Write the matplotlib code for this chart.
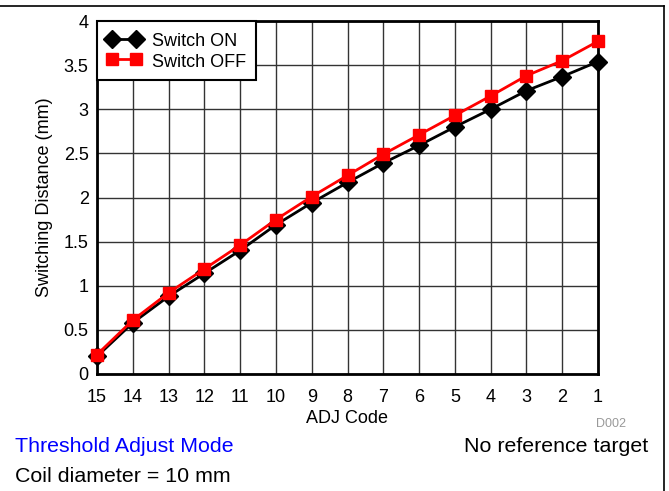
import matplotlib
matplotlib.use("Agg")
import matplotlib.pyplot as plt
from matplotlib.lines import Line2D

plt.rcParams['font.family'] = ['Liberation Sans', 'DejaVu Sans']

adj_codes = ['15', '14', '13', '12', '11', '10', '9', '8', '7', '6', '5', '4', '3', '2', '1']
switch_on = [0.20, 0.58, 0.88, 1.14, 1.40, 1.69, 1.94, 2.17, 2.39, 2.59, 2.80, 3.00, 3.21, 3.37, 3.54]
switch_off = [0.22, 0.61, 0.92, 1.19, 1.46, 1.75, 2.01, 2.25, 2.49, 2.71, 2.93, 3.15, 3.38, 3.55, 3.77]
y_ticks = [0, 0.5, 1, 1.5, 2, 2.5, 3, 3.5, 4]
y_tick_labels = ['0', '0.5', '1', '1.5', '2', '2.5', '3', '3.5', '4']

W, H = 669, 491
fig = plt.figure(figsize=(W / 100, H / 100), dpi=100)
ax = fig.add_axes([97 / W, 1 - 374 / H, (598 - 97) / W, (374 - 21) / H])

x = list(range(len(adj_codes)))
ax.plot(x, switch_on, color='black', lw=2, marker='D', markersize=9.5,
        label='Switch ON', clip_on=False, zorder=3)
ax.plot(x, switch_off, color='#ff0000', lw=2, marker='s', markersize=9,
        label='Switch OFF', clip_on=False, zorder=4)

ax.set_xlim(0, len(adj_codes) - 1)
ax.set_ylim(0, 4)
ax.set_xticks(x)
ax.set_xticklabels(adj_codes)
ax.set_yticks(y_ticks)
ax.set_yticklabels(y_tick_labels)
ax.tick_params(axis='y', length=0, labelsize=13, pad=6)
ax.tick_params(axis='x', length=0, labelsize=13, pad=11)
ax.grid(True, color='#333333', lw=1)
ax.set_axisbelow(True)
for s in ax.spines.values():
    s.set_linewidth(2)
    s.set_color('black')

ax.set_xlabel('ADJ Code', fontsize=13, labelpad=3)
ax.set_ylabel('Switching Distance (mm)', fontsize=13, labelpad=8)

leg = ax.legend(loc='upper left', borderaxespad=0, numpoints=2, fontsize=13,
                fancybox=False, framealpha=1, edgecolor='black',
                handlelength=1.9, handleheight=1.2, handletextpad=0.6,
                borderpad=0.55, labelspacing=0.05)
leg.get_frame().set_linewidth(1.5)

fig.text(626 / W, 1 - 424 / H, 'D002', color='#999999', fontsize=9,
         ha='right', va='center')
fig.text(15 / W, 1 - 447 / H, 'Threshold Adjust Mode', color='#0000ff',
         fontsize=15.4, ha='left', va='center')
fig.text(648 / W, 1 - 447 / H, 'No reference target', color='black',
         fontsize=15.4, ha='right', va='center')
fig.text(15 / W, 1 - 477 / H, 'Coil diameter = 10 mm', color='black',
         fontsize=15.4, ha='left', va='center')

fig.add_artist(Line2D([0, 663.5 / W], [1 - 6 / H, 1 - 6 / H], color='black', lw=1.2,
                      transform=fig.transFigure))
fig.add_artist(Line2D([663.5 / W, 663.5 / W], [0, 1 - 6 / H], color='black', lw=1.2,
                      transform=fig.transFigure))

fig.savefig('out.png', dpi=100)
